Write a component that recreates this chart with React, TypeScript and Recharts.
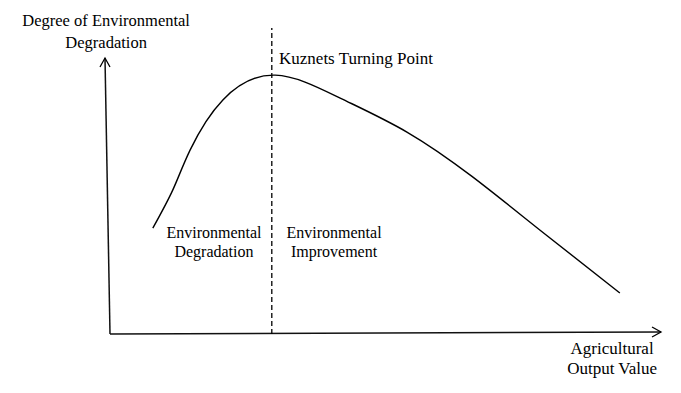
import React from 'react';
import { LineChart, Line, XAxis, YAxis, ReferenceLine, ReferenceDot } from 'recharts';

// Kuznets curve (x: output value, y: degradation, 0-100 scale)
const outputValue = [8.6, 12.2, 15.3, 21.2, 30.6, 42.3, 54.3, 66.0, 78.2, 92.6];
const degradation = [34.6, 47.1, 60.1, 76.5, 84.6, 77.1, 66.0, 51.5, 34.0, 13.4];

const turningPoint = 30;
const yTitle = ['Degree of Environmental', 'Degradation'];
const xTitle = ['Agricultural', 'Output Value'];
const leftRegion = ['Environmental', 'Degradation'];
const rightRegion = ['Environmental', 'Improvement'];
const turningLabel = 'Kuznets Turning Point';

const curveData = outputValue.map((x, i) => ({ x, y: degradation[i] }));

// one <text> per line; the font is set on every element
const textShape = (lines: string[], gap: number, size = 16.5, anchor: 'start' | 'middle' = 'middle') => (p: any) => (
  <g>
    {lines.map((l, i) => (
      <text
        key={i}
        x={p.cx}
        y={p.cy + 5.5 + i * gap}
        textAnchor={anchor}
        fontFamily="Liberation Serif"
        fontSize={size}
        fill="#000"
      >
        {l}
      </text>
    ))}
  </g>
);

const upArrow = (p: any) => (
  <polyline
    points={`${p.cx - 5},${p.cy + 9} ${p.cx},${p.cy} ${p.cx + 5},${p.cy + 9}`}
    fill="none"
    stroke="#000"
    strokeWidth={1.3}
  />
);

const rightArrow = (p: any) => (
  <polyline
    points={`${p.cx - 9},${p.cy - 5} ${p.cx},${p.cy} ${p.cx - 9},${p.cy + 5}`}
    fill="none"
    stroke="#000"
    strokeWidth={1.3}
  />
);

const App: React.FC = () => {
  return (
    <div style={{ position: 'absolute', left: 0, top: 0, background: '#fff' }}>
      <LineChart width={681} height={393} data={curveData} margin={{ top: 28, right: 20, bottom: 59, left: 105 }}>
        <XAxis dataKey="x" type="number" domain={[0, 100]} hide />
        <YAxis type="number" domain={[0, 100]} hide />

        {/* axes */}
        <ReferenceLine
          segment={[{ x: 0.9, y: 0 }, { x: 0, y: 90.2 }]}
          stroke="#111"
          strokeWidth={1.5}
          ifOverflow="visible"
        />
        <ReferenceLine
          segment={[{ x: 0.9, y: 0 }, { x: 100, y: 0.65 }]}
          stroke="#111"
          strokeWidth={1.5}
          ifOverflow="visible"
        />
        <ReferenceDot x={0} y={90.2} r={0} ifOverflow="visible" shape={upArrow} />
        <ReferenceDot x={100} y={0.65} r={0} ifOverflow="visible" shape={rightArrow} />

        <ReferenceLine x={turningPoint} stroke="#000" strokeWidth={1.3} strokeDasharray="5 3" />

        <Line
          type="natural"
          dataKey="y"
          stroke="#000"
          strokeWidth={1.4}
          dot={false}
          isAnimationActive={false}
        />

        <ReferenceDot x={0.2} y={102.6} r={0} ifOverflow="visible" shape={textShape(yTitle, 22)} />
        <ReferenceDot x={91.2} y={-4.6} r={0} ifOverflow="visible" shape={textShape(xTitle, 20, 17)} />
        <ReferenceDot x={19.6} y={33.3} r={0} ifOverflow="visible" shape={textShape(leftRegion, 19, 16)} />
        <ReferenceDot x={41.2} y={33.3} r={0} ifOverflow="visible" shape={textShape(rightRegion, 19, 16)} />
        <ReferenceDot x={31.3} y={89.9} r={0} ifOverflow="visible" shape={textShape([turningLabel], 0, 17, 'start')} />
      </LineChart>
    </div>
  );
};

export default App;
